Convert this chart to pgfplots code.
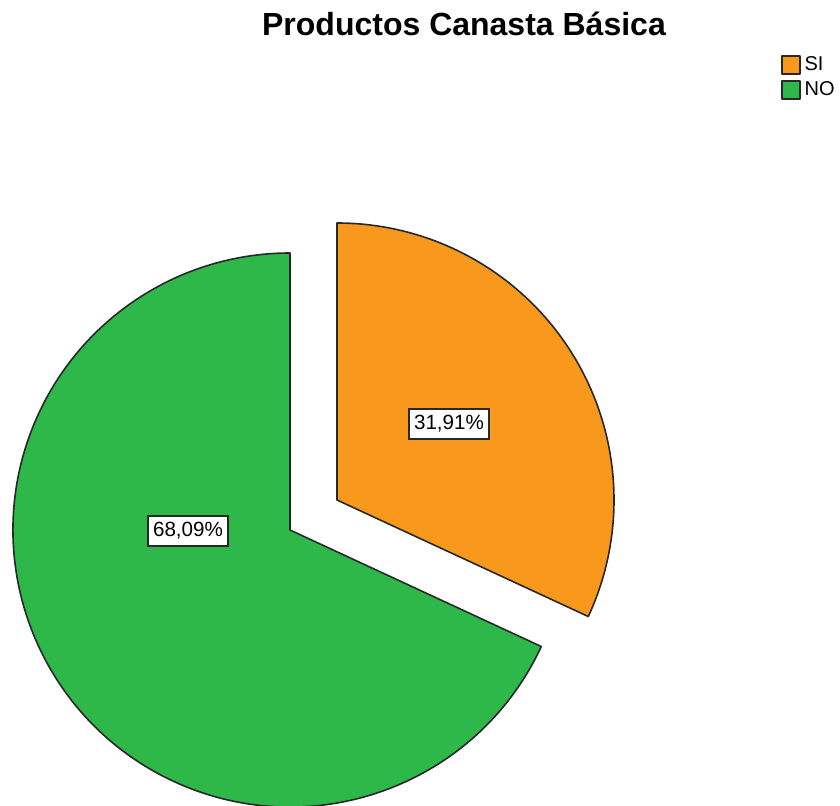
\documentclass[border=0pt]{standalone}
\usepackage{pgfplots}
\pgfplotsset{compat=1.18}
\usepackage{pgfplotstable}
\usepackage{fontspec}
\setmainfont{Liberation Sans}
\definecolor{siorange}{RGB}{248,152,29}
\definecolor{nogreen}{RGB}{46,184,74}
\definecolor{edge}{RGB}{40,40,40}

\pgfplotstableread{
label value
SI 31.91
NO 68.09
}\piedata
\pgfplotstablegetelem{0}{value}\of\piedata \let\vSI\pgfplotsretval
\pgfplotstablegetelem{1}{value}\of\piedata \let\vNO\pgfplotsretval
\pgfmathsetmacro{\aSI}{90-3.6*\vSI}
\pgfmathsetmacro{\aNO}{\aSI-3.6*\vNO}

\begin{document}
\begin{tikzpicture}
\useasboundingbox (0,0) rectangle (420pt,402.5pt);
\begin{axis}[
  x=0.5pt, y=0.5pt,
  xmin=0, xmax=840, ymin=0, ymax=805,
  hide axis, clip=false,
  legend image code/.code={\draw[#1] (0pt,-4.5pt) rectangle (9pt,4.5pt);},
  legend style={draw=none, fill=none, at={(axis cs:781,750)}, anchor=north west,
    inner sep=0pt, row sep=2.5pt, font=\fontsize{10}{11}\selectfont,
    nodes={inner xsep=1.8pt, inner ysep=0.5pt}},
  legend cell align=left,
]
\addplot[fill=siorange, draw=edge, line width=0.8pt, line join=round]
  coordinates {(337,305)} -- +(90:138.5pt) arc[start angle=90, end angle=\aSI, radius=138.5pt] -- cycle;
\addlegendentry{SI}
\addplot[fill=nogreen, draw=edge, line width=0.8pt, line join=round]
  coordinates {(290,275)} -- +(\aSI:138.5pt) arc[start angle=\aSI, end angle=\aNO, radius=138.5pt] -- cycle;
\addlegendentry{NO}

\node[anchor=base, font=\bfseries\fontsize{16}{19}\selectfont] at (axis cs:464,769) {Productos Canasta Básica};
\node[draw=edge, fill=white, line width=0.8pt, inner xsep=2.5pt, minimum height=14pt, font=\fontsize{10.3}{11}\selectfont] at (axis cs:449,381) {31,91\%};
\node[draw=edge, fill=white, line width=0.8pt, inner xsep=2.5pt, minimum height=14pt, font=\fontsize{10.3}{11}\selectfont] at (axis cs:188,274) {68,09\%};
\end{axis}
\end{tikzpicture}
\end{document}
